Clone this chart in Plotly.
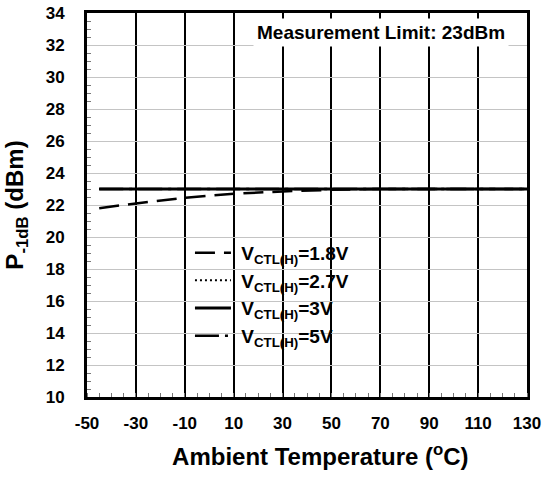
import plotly.graph_objects as go

# ambient temperature (degC) and P-1dB (dBm) per control voltage
temp = [-45, -30, -10, 10, 30, 50, 70, 90, 110, 130]
p1db_18 = [21.8, 22.1, 22.45, 22.7, 22.85, 22.95, 23.0, 23.0, 23.0, 23.0]
p1db_27 = [23.0, 23.0, 23.0, 23.0, 23.0, 23.0, 23.0, 23.0, 23.0, 23.0]
p1db_3 = [23.0, 23.0, 23.0, 23.0, 23.0, 23.0, 23.0, 23.0, 23.0, 23.0]
p1db_5 = [23.0, 23.0, 23.0, 23.0, 23.0, 23.0, 23.0, 23.0, 23.0, 23.0]

x_tickvals = [-50, -30, -10, 10, 30, 50, 70, 90, 110, 130]
x_ticktext = ["-50", "-30", "-10", "10", "30", "50", "70", "90", "110", "130"]

series = [
    ("&nbsp;V<sub>CTL(H)</sub>=1.8V", p1db_18, "20px,9px", 2.5),
    ("&nbsp;V<sub>CTL(H)</sub>=2.7V", p1db_27, "2px,3px", 2),
    ("&nbsp;V<sub>CTL(H)</sub>=3V", p1db_3, "solid", 3),
    ("&nbsp;V<sub>CTL(H)</sub>=5V", p1db_5, "24px,6px,3px,6px", 2.5),
]

fig = go.Figure()
for name, ys, dash, w in series:
    fig.add_trace(
        go.Scatter(
            x=temp, y=ys, name=name, mode="lines",
            line=dict(color="black", dash=dash, width=w),
        )
    )

font = "Liberation Sans"

# white block behind the legend hides the grid there
fig.add_shape(
    type="rect", xref="x", yref="y", x0=-23.4, x1=57.6, y0=12.9, y1=20.1,
    fillcolor="white", line=dict(width=0), layer="below",
)

fig.update_layout(
    width=544,
    height=479,
    margin=dict(l=87, r=17, t=13, b=82),
    paper_bgcolor="white",
    plot_bgcolor="white",
    font=dict(family=font, color="black"),
    showlegend=True,
    legend=dict(
        x=0.234, y=0.425, xanchor="left", yanchor="top",
        bgcolor="rgba(0,0,0,0)", font=dict(size=19, family=font, weight="bold"),
        itemwidth=36,
    ),
    annotations=[
        dict(
            x=0.669, y=0.9505, xref="paper", yref="paper",
            xanchor="center", yanchor="middle",
            text="<b>Measurement Limit: 23dBm</b>", showarrow=False,
            font=dict(size=19, family=font), bgcolor="white", borderpad=3,
        )
    ],
)

fig.update_xaxes(
    range=[-50, 130], tickvals=x_tickvals, ticktext=x_ticktext, automargin=False,
    showgrid=True, gridcolor="black", gridwidth=1.5,
    showline=True, linecolor="black", linewidth=3, mirror=True,
    ticks="", ticklabelstandoff=9,
    tickfont=dict(size=17, family=font, weight="bold"),
    minor=dict(dtick=5, tick0=-50, ticks="inside", ticklen=4, tickcolor="#777", showgrid=False),
    zeroline=False,
    title=dict(text="<b>&nbsp;&nbsp;&nbsp;&nbsp;Ambient Temperature (<sup>o</sup>C)</b>",
               font=dict(size=24, family=font), standoff=16),
)
fig.update_yaxes(
    range=[10, 34], dtick=2, automargin=False,
    showgrid=True, gridcolor="#c4c4c4", gridwidth=1,
    showline=True, linecolor="black", linewidth=3, mirror=True,
    ticks="", ticklabelstandoff=16,
    tickfont=dict(size=17, family=font, weight="bold"),
    minor=dict(dtick=0.5, ticks="inside", ticklen=4, tickcolor="#777", showgrid=False),
    zeroline=False,
    title=dict(text="<b>P<sub>-1dB</sub> (dBm)</b>",
               font=dict(size=24, family=font), standoff=16),
)

fig.write_html(
    "out.html",
    config={"displayModeBar": False},
    post_script="document.body.style.margin = '0';",
)
